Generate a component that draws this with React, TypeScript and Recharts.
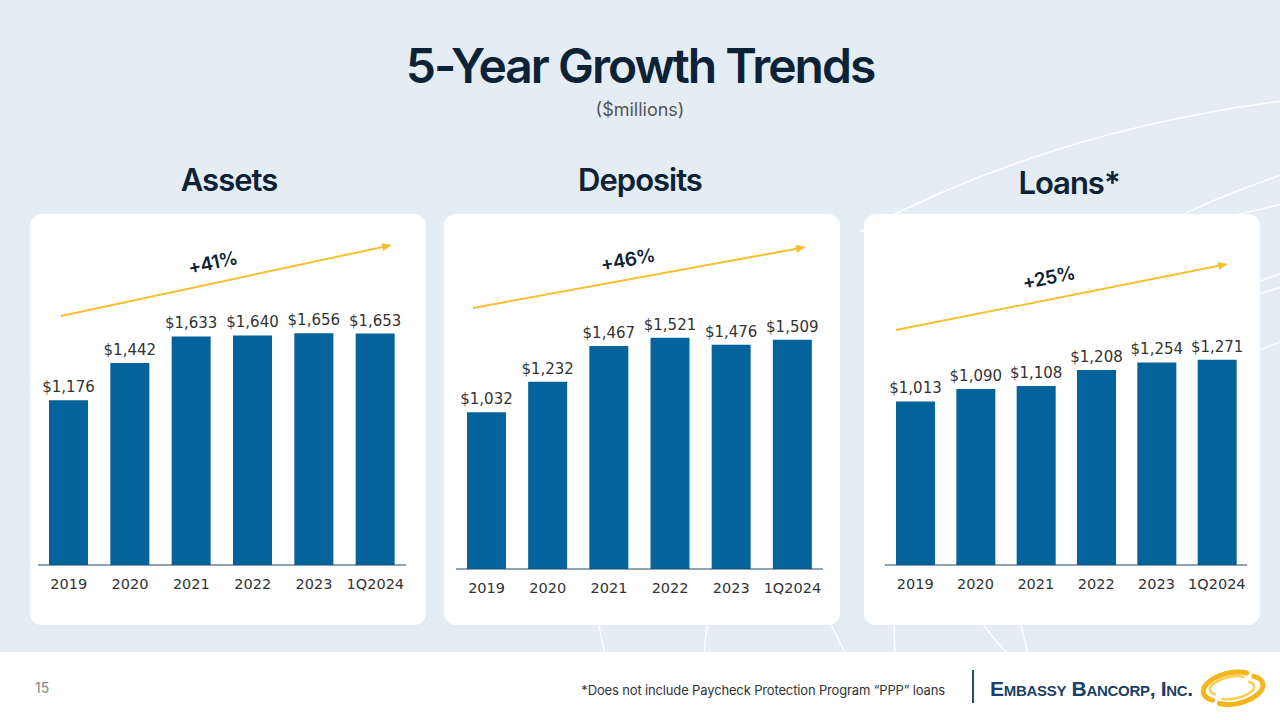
import { BarChart, Bar, XAxis, YAxis, LabelList } from 'recharts';

const years = ['2019', '2020', '2021', '2022', '2023', '1Q2024'];
const assets = [1176, 1442, 1633, 1640, 1656, 1653];
const deposits = [1032, 1232, 1467, 1521, 1476, 1509];
const loans = [1013, 1090, 1108, 1208, 1254, 1271];
const growthLabels = ['+41%', '+46%', '+25%'];
const panelTitles = ['Assets', 'Deposits', 'Loans*'];

const BAR = '#04639a';
const NAVY = '#0d2236';
const GOLD = '#f4c033';
const LABEL_FONT = '"DejaVu Sans", sans-serif';
const HEAD_FONT = 'Inter, "Noto Sans", sans-serif';

const money = (v: number) => `$${v.toLocaleString('en-US')}`;

type PanelProps = {
  left: number;
  values: number[];
  title: string;
  titleX: number;
  titleY: number;
  growth: string;
  margin: { top: number; right: number; bottom: number; left: number };
  arrow: [number, number, number, number];
  growthPos: [number, number];
};

function Panel({ left, values, title, titleX, titleY, growth, margin, arrow, growthPos }: PanelProps) {
  const data = years.map((year, i) => ({ year, value: values[i] }));
  const [x1, y1, x2, y2] = arrow;
  const angle = (Math.atan2(y2 - y1, x2 - x1) * 180) / Math.PI;
  const rad = (angle * Math.PI) / 180;
  return (
    <>
      <div
        style={{
          position: 'absolute',
          left: titleX - 100,
          width: 200,
          top: titleY - 20,
          textAlign: 'center',
          fontFamily: HEAD_FONT,
          fontWeight: 600,
          fontSize: 31,
          letterSpacing: -1,
          color: NAVY,
          lineHeight: '40px',
        }}
      >
        {title}
      </div>
      <div
        style={{
          position: 'absolute',
          left,
          top: 214,
          width: 396,
          height: 411,
          background: '#fff',
          borderRadius: 12,
        }}
      >
        <BarChart width={396} height={411} data={data} margin={margin}>
          <XAxis
            dataKey="year"
            height={30}
            tickLine={false}
            tickMargin={8}
            axisLine={{ stroke: '#1d4a6b', strokeWidth: 1 }}
            tick={{ fill: '#333', fontSize: 14.5, fontFamily: LABEL_FONT }}
            interval={0}
          />
          <YAxis hide domain={[0, 2000]} />
          <Bar dataKey="value" fill={BAR} barSize={39} isAnimationActive={false}>
            <LabelList
              dataKey="value"
              position="top"
              offset={8}
              formatter={(v: number) => money(v)}
              style={{ fill: '#333', fontSize: 15, fontFamily: LABEL_FONT }}
            />
          </Bar>
        </BarChart>
      </div>
      <svg style={{ position: 'absolute', left: 0, top: 0, pointerEvents: 'none' }} width={1280} height={720}>
        <line x1={x1} y1={y1} x2={x2 - 8 * Math.cos(rad)} y2={y2 - 8 * Math.sin(rad)} stroke={GOLD} strokeWidth={2} />
        <polygon points="0,0 -10,-4 -10,4" fill={GOLD} transform={`translate(${x2},${y2}) rotate(${angle})`} />
        <text
          x={growthPos[0]}
          y={growthPos[1]}
          textAnchor="middle"
          dominantBaseline="middle"
          transform={`rotate(${angle} ${growthPos[0]} ${growthPos[1]})`}
          style={{ fontFamily: HEAD_FONT, fontWeight: 600, fontSize: 19, fill: NAVY, letterSpacing: -0.5 }}
        >
          {growth}
        </text>
      </svg>
    </>
  );
}

export default function App() {
  return (
    <div
      style={{
        position: 'absolute',
        left: 0,
        top: 0,
        width: 1280,
        height: 720,
        overflow: 'hidden',
        background: '#e4edf3',
        fontFamily: HEAD_FONT,
      }}
    >
      {/* decorative background curves */}
      <svg style={{ position: 'absolute', left: 0, top: 0 }} width={1280} height={720}>
        <g fill="none" stroke="#ffffff" strokeWidth={1.5} opacity={0.95}>
          <path d="M 860 232 Q 1050 130 1290 100" />
          <path d="M 1150 230 Q 1220 195 1290 172" />
          <path d="M 1210 222 Q 1250 210 1290 203" />
          <path d="M 1255 283 L 1285 272" />
          <path d="M 1255 295 L 1285 286" />
          <path d="M 1255 352 L 1285 340" />
          <path d="M 598 620 Q 601 640 606 656" />
          <path d="M 708 620 Q 705 640 704 656" />
          <path d="M 829 620 Q 838 640 847 656" />
          <path d="M 894 620 L 895 656" />
          <path d="M 980 620 Q 994 640 1010 656" />
          <path d="M 1020 620 Q 1024 640 1029 656" />
        </g>
      </svg>

      <div
        style={{
          position: 'absolute',
          left: 0,
          width: 1280,
          top: 36,
          textAlign: 'center',
          fontWeight: 600,
          fontSize: 48,
          letterSpacing: -2,
          color: NAVY,
          lineHeight: '60px',
        }}
      >
        5-Year Growth Trends
      </div>
      <div
        style={{
          position: 'absolute',
          left: 0,
          width: 1280,
          top: 97,
          textAlign: 'center',
          fontSize: 18,
          color: '#555',
          lineHeight: '26px',
        }}
      >
        ($millions)
      </div>

      <Panel
        left={30}
        values={assets}
        title={panelTitles[0]}
        titleX={229}
        titleY={180}
        growth={growthLabels[0]}
        margin={{ top: 71, right: 20, bottom: 30, left: 8 }}
        arrow={[61, 316, 392, 245]}
        growthPos={[213, 264]}
      />
      <Panel
        left={444}
        values={deposits}
        title={panelTitles[1]}
        titleX={640}
        titleY={180}
        growth={growthLabels[1]}
        margin={{ top: 51, right: 17, bottom: 26, left: 12 }}
        arrow={[473, 308, 806, 247]}
        growthPos={[628, 261]}
      />
      <Panel
        left={864}
        values={loans}
        title={panelTitles[2]}
        titleX={1069}
        titleY={183}
        growth={growthLabels[2]}
        margin={{ top: 28, right: 13, bottom: 30, left: 21 }}
        arrow={[896, 330, 1228, 264]}
        growthPos={[1049, 279]}
      />

      {/* footer */}
      <div style={{ position: 'absolute', left: 0, top: 652, width: 1280, height: 68, background: '#fff' }} />
      <div style={{ position: 'absolute', left: 35, top: 678, fontSize: 14, color: '#888', lineHeight: '20px' }}>15</div>
      <div
        style={{
          position: 'absolute',
          right: 1280 - 945,
          top: 681,
          fontSize: 13,
          color: '#333',
          lineHeight: '18px',
          whiteSpace: 'nowrap',
          letterSpacing: -0.15,
        }}
      >
        *Does not include Paycheck Protection Program “PPP” loans
      </div>
      <div style={{ position: 'absolute', left: 972, top: 670, width: 2, height: 33, background: '#1b4f7a' }} />
      <div
        style={{
          position: 'absolute',
          left: 990,
          top: 675,
          fontFamily: '"Liberation Sans", Arial, sans-serif',
          fontWeight: 700,
          fontSize: 21,
          fontVariant: 'small-caps',
          color: '#1b3f66',
          lineHeight: '28px',
          whiteSpace: 'nowrap',
          letterSpacing: -0.3,
        }}
      >
        Embassy Bancorp, Inc.
      </div>
      <svg style={{ position: 'absolute', left: 1200, top: 668 }} width={66} height={40}>
        <g transform="rotate(-14 32 20)" fill="none" strokeLinecap="round">
          <path d="M 10 27 A 24 12 0 0 1 50 9" stroke="#f6b51a" strokeWidth={5} />
          <path d="M 56 14 A 24 12 0 0 1 16 32" stroke="#f6b51a" strokeWidth={5} />
          <path d="M 14 22 A 19 8 0 0 1 46 12" stroke="#fbd050" strokeWidth={2.5} />
          <path d="M 50 18 A 19 8 0 0 1 20 28" stroke="#fbd050" strokeWidth={2.5} />
        </g>
      </svg>
    </div>
  );
}
